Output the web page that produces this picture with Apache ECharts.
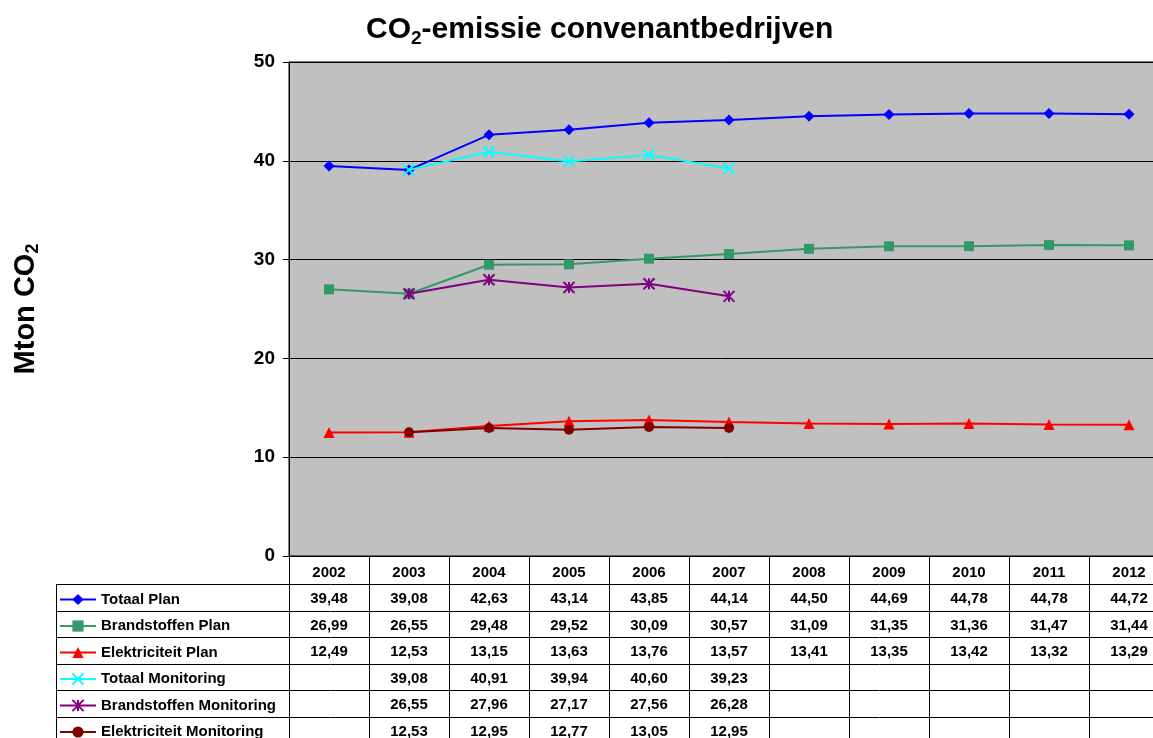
<!DOCTYPE html>
<html>
<head>
<meta charset="utf-8">
<script src="https://cdn.jsdelivr.net/npm/echarts@6/dist/echarts.min.js"></script>
<style>
html,body{margin:0;padding:0;background:#ffffff;}
#c{width:1153px;height:738px;}
</style>
</head>
<body>
<div id="c"></div>
<script>
// ---- data ----
const years = ['2002','2003','2004','2005','2006','2007','2008','2009','2010','2011','2012'];
const totaalPlan = [39.48, 39.08, 42.63, 43.14, 43.85, 44.14, 44.50, 44.69, 44.78, 44.78, 44.72];
const brandstoffenPlan = [26.99, 26.55, 29.48, 29.52, 30.09, 30.57, 31.09, 31.35, 31.36, 31.47, 31.44];
const elektriciteitPlan = [12.49, 12.53, 13.15, 13.63, 13.76, 13.57, 13.41, 13.35, 13.42, 13.32, 13.29];
const totaalMonitoring = [null, 39.08, 40.91, 39.94, 40.60, 39.23, null, null, null, null, null];
const brandstoffenMonitoring = [null, 26.55, 27.96, 27.17, 27.56, 26.28, null, null, null, null, null];
const elektriciteitMonitoring = [null, 12.53, 12.95, 12.77, 13.05, 12.95, null, null, null, null, null];
const seriesNames = ['Totaal Plan','Brandstoffen Plan','Elektriciteit Plan','Totaal Monitoring','Brandstoffen Monitoring','Elektriciteit Monitoring'];
const yMin = 0, yMax = 50, yStep = 10;

// ---- styling ----
const FONT = '"Liberation Sans", Arial, sans-serif';
const seriesData = [totaalPlan, brandstoffenPlan, elektriciteitPlan, totaalMonitoring, brandstoffenMonitoring, elektriciteitMonitoring];
const colors = ['#0000FF', '#339966', '#FF0000', '#00FFFF', '#800080', '#800000'];
const X_PATH = 'path://M0,0L10,10M10,0L0,10';
const STAR_PATH = 'path://M0,0L10,10M10,0L0,10M5,0L5,10';
const symbols = ['diamond', 'rect', 'triangle', X_PATH, STAR_PATH, 'circle'];
const symbolSizes = [11, 10, 11, 11, 11, 10];
const stroked = [false, false, false, true, true, false];

const chart = echarts.init(document.getElementById('c'), null, {renderer: 'canvas'});

const series = seriesNames.map((name, k) => ({
  name: name,
  type: 'line',
  data: seriesData[k],
  symbol: symbols[k],
  symbolSize: symbolSizes[k],
  showAllSymbol: true,
  connectNulls: false,
  lineStyle: {color: colors[k], width: 2},
  itemStyle: stroked[k]
    ? {color: colors[k], borderColor: colors[k], borderWidth: 2}
    : {color: colors[k], borderWidth: 0},
  emphasis: {disabled: true},
  z: 2 + k
}));

const option = {
  animation: false,
  backgroundColor: '#ffffff',
  textStyle: {fontFamily: FONT},
  title: {
    text: '{a|CO}{s|2}{a|-emissie convenantbedrijven}',
    left: 366,
    top: 12,
    padding: 0,
    textStyle: {
      rich: {
        a: {fontSize: 30, fontWeight: 'bold', fontFamily: FONT, color: '#000', lineHeight: 36},
        s: {fontSize: 19, fontWeight: 'bold', fontFamily: FONT, color: '#000', lineHeight: 17, verticalAlign: 'bottom'}
      }
    }
  },
  legend: {
    orient: 'vertical',
    left: 59,
    top: 591.5,
    height: 180,
    padding: 0,
    itemWidth: 36,
    itemHeight: 14,
    itemGap: 10.5,
    data: seriesNames,
    selectedMode: false,
    textStyle: {fontSize: 15, fontWeight: 'bold', fontFamily: FONT, color: '#000', lineHeight: 16}
  },
  grid: {
    left: 289,
    top: 62,
    right: -16,
    bottom: 182,
    containLabel: false,
    outerBoundsMode: 'none',
    show: true,
    backgroundColor: '#C0C0C0',
    borderColor: '#000',
    borderWidth: 1
  },
  xAxis: {
    type: 'category',
    data: years,
    boundaryGap: true,
    axisLine: {show: true, lineStyle: {color: '#000', width: 1}},
    axisTick: {show: true, interval: 0, alignWithLabel: false, length: 190, lineStyle: {color: '#000', width: 1}},
    axisLabel: {interval: 0, margin: 9, fontSize: 15, fontWeight: 'bold', fontFamily: FONT, color: '#000'},
    splitLine: {show: false}
  },
  yAxis: {
    type: 'value',
    min: yMin,
    max: yMax,
    interval: yStep,
    name: '{a|Mton CO}{s|2}',
    nameLocation: 'middle',
    nameRotate: 90,
    nameGap: 247,
    nameTextStyle: {
      rich: {
        a: {fontSize: 29, fontWeight: 'bold', fontFamily: FONT, color: '#000', lineHeight: 32},
        s: {fontSize: 18, fontWeight: 'bold', fontFamily: FONT, color: '#000', lineHeight: 15, verticalAlign: 'bottom'}
      }
    },
    axisLine: {show: true, lineStyle: {color: '#000', width: 1}},
    axisTick: {show: true, inside: false, length: 6, lineStyle: {color: '#000', width: 1}},
    axisLabel: {margin: 14, fontSize: 19, fontWeight: 'bold', fontFamily: FONT, color: '#000'},
    splitLine: {show: true, lineStyle: {color: '#000', width: 1}}
  },
  series: series
};

chart.setOption(option);

// ---- data table drawn from the chart's own x scale ----
function fmt(v) { return v.toFixed(2).replace('.', ','); }
const xOf = (i) => chart.convertToPixel({xAxisIndex: 0}, years[i]);
const band = xOf(1) - xOf(0);
const yBase = chart.convertToPixel({yAxisIndex: 0}, yMin);
const tableRight = xOf(years.length - 1) + band / 2;
const tableLeft = 56;
const headerH = 28.3;
const rowH = 26.5;
const elements = [];
const lineStyle = {stroke: '#000', lineWidth: 1};
const crisp = (v) => Math.round(v) + 0.5;

for (let r = 0; r <= seriesData.length; r++) {
  const yy = crisp(yBase + headerH + r * rowH);
  elements.push({type: 'line', silent: true, z: 10, shape: {x1: tableLeft, y1: yy, x2: tableRight, y2: yy}, style: lineStyle});
}
elements.push({type: 'line', silent: true, z: 10,
  shape: {x1: crisp(tableLeft), y1: crisp(yBase + headerH), x2: crisp(tableLeft), y2: crisp(yBase + headerH + seriesData.length * rowH)},
  style: lineStyle});

seriesData.forEach((arr, r) => {
  const cy = yBase + headerH + r * rowH + rowH / 2 + 1.5;
  arr.forEach((v, i) => {
    if (v == null) return;
    elements.push({
      type: 'text', silent: true, z: 11,
      x: xOf(i), y: cy,
      style: {text: fmt(v), align: 'center', verticalAlign: 'middle',
        fontSize: 15, fontWeight: 'bold', fontFamily: FONT, fill: '#000'}
    });
  });
});

chart.setOption({graphic: elements});
</script>
</body>
</html>
